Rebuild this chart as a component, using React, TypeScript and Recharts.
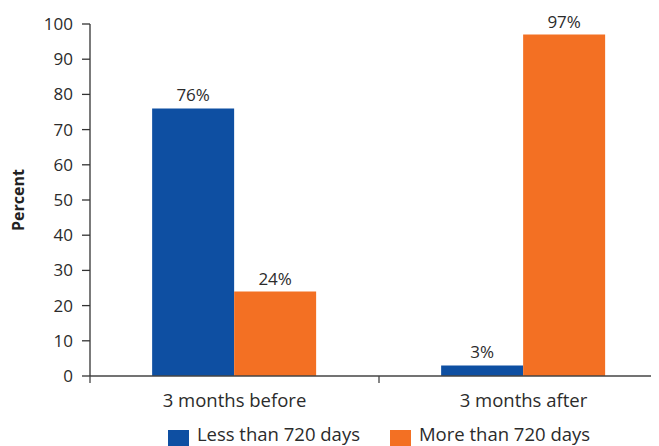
import * as React from "react";
import { BarChart, Bar, XAxis, YAxis, Legend, LabelList } from "recharts";

const categories = ["3 months before", "3 months after"];
const lessThan720 = [76, 3];
const moreThan720 = [24, 97];
const yTicks = [0, 10, 20, 30, 40, 50, 60, 70, 80, 90, 100];

const seriesList = [
  { key: "less", name: "Less than 720 days", color: "#0E4FA2", values: lessThan720 },
  { key: "more", name: "More than 720 days", color: "#F37023", values: moreThan720 },
];

const FONT = "'Open Sans', 'DejaVu Sans', sans-serif";
const INK = "#2b2b2b";

const data = categories.map((c, i) => {
  const row: Record<string, string | number> = { cat: c };
  for (const s of seriesList) row[s.key] = s.values[i];
  return row;
});

function XTick(props: any) {
  const { x, y, payload } = props;
  const half = payload?.offset ?? 144.5;
  const top = y - 8;
  return (
    <g>
      <line x1={x - half} y1={top} x2={x - half} y2={top + 7} stroke="#444" strokeWidth={1.3} />
      <text x={x} y={top + 31} textAnchor="middle" fontSize={18.5} fill={INK} fontFamily={FONT}>
        {payload.value}
      </text>
    </g>
  );
}

function LegendBox() {
  return (
    <div
      style={{
        display: "flex",
        justifyContent: "center",
        alignItems: "flex-start",
        gap: 30,
        height: 30,
        fontFamily: FONT,
        fontSize: 18.5,
        lineHeight: "20px",
        color: INK,
      }}
    >
      {seriesList.map((s) => (
        <div key={s.key} style={{ display: "flex", alignItems: "flex-start", gap: 8 }}>
          <span style={{ display: "inline-block", width: 21, height: 21, background: s.color, marginTop: 14 }} />
          <span style={{ marginTop: 8, display: "inline-block", height: 20 }}>{s.name}</span>
        </div>
      ))}
    </div>
  );
}

export default function App() {
  return (
    <div style={{ width: 651, height: 438, overflow: "hidden", fontFamily: FONT }}>
      <BarChart
        width={660}
        height={438}
        data={data}
        margin={{ top: 16, right: 0, bottom: 0, left: 0 }}
        barCategoryGap="21.5%"
        barGap={0}
      >
        <XAxis
          dataKey="cat"
          height={40}
          axisLine={{ stroke: "#444", strokeWidth: 1.3 }}
          tickLine={false}
          tick={<XTick />}
          interval={0}
        />
        <YAxis
          width={82}
          domain={[0, 100]}
          ticks={yTicks}
          interval={0}
          tickSize={8}
          tickMargin={9}
          axisLine={{ stroke: "#333", strokeWidth: 1.3 }}
          tickLine={{ stroke: "#333", strokeWidth: 1.3 }}
          tick={{ fontSize: 17, fill: INK, fontFamily: FONT }}
          label={{
            content: (p: any) => {
              const vb = p.viewBox || { x: 0, y: 16, height: 352 };
              const cx = vb.x + 10;
              const cy = vb.y + vb.height / 2;
              return (
                <text
                  x={cx}
                  y={cy}
                  transform={`rotate(-90, ${cx}, ${cy})`}
                  textAnchor="middle"
                  dominantBaseline="central"
                  fontSize={16}
                  fontWeight="bold"
                  fill="#222"
                  fontFamily={FONT}
                >
                  Percent
                </text>
              );
            },
          }}
        />
        <Legend
          verticalAlign="bottom"
          content={<LegendBox />}
          wrapperStyle={{ left: 82, width: 578, height: 30, bottom: 0 }}
        />
        {seriesList.map((s) => (
          <Bar key={s.key} dataKey={s.key} name={s.name} fill={s.color} isAnimationActive={false}>
            <LabelList
              dataKey={s.key}
              position="top"
              offset={7}
              formatter={(v: any) => `${v}%`}
              style={{ fontSize: 17, fill: INK, fontFamily: FONT }}
            />
          </Bar>
        ))}
      </BarChart>
    </div>
  );
}
